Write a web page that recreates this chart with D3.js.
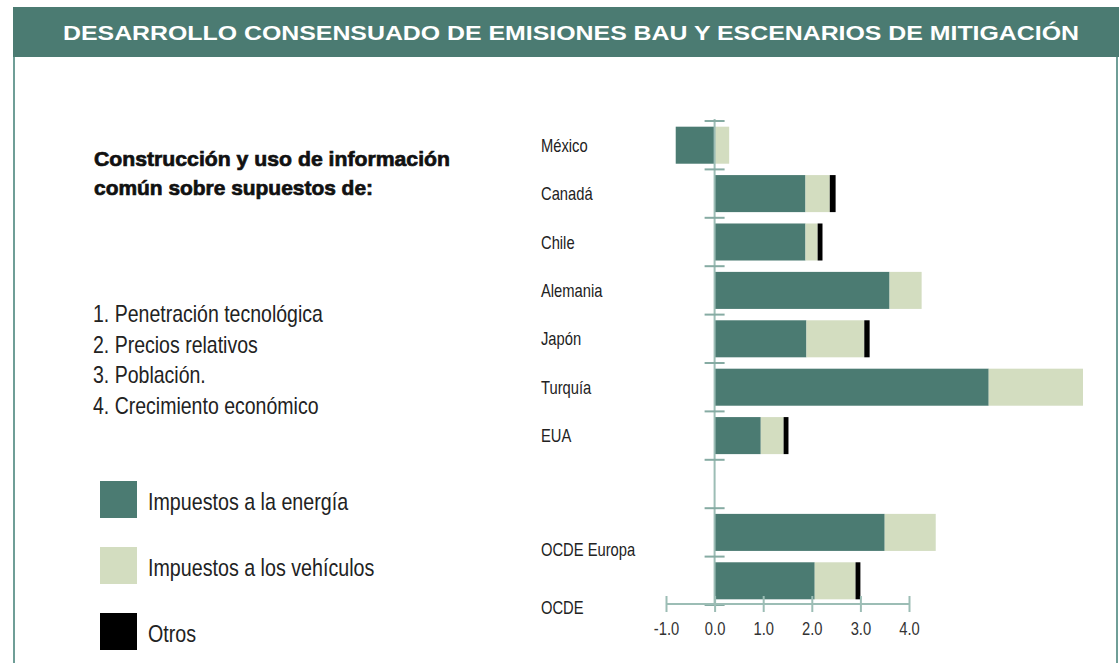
<!DOCTYPE html>
<html>
<head>
<meta charset="utf-8">
<script src="https://cdn.jsdelivr.net/npm/d3@7"></script>
<style>
  html, body { margin: 0; padding: 0; background: #ffffff; }
  svg { display: block; }
  text { font-family: "Liberation Sans", Arial, sans-serif; }
</style>
</head>
<body>
<svg id="chart" width="1119" height="663"></svg>
<script>
// ---- data ----
const title = "DESARROLLO CONSENSUADO DE EMISIONES BAU Y ESCENARIOS DE MITIGACIÓN";
const headingLines = ["Construcción y uso de información", "común sobre supuestos de:"];
const assumptions = ["1. Penetración tecnológica", "2. Precios relativos", "3. Población.", "4. Crecimiento económico"];
const categories = ["México", "Canadá", "Chile", "Alemania", "Japón", "Turquía", "EUA", "OCDE Europa", "OCDE"];
const energia   = [-0.8, 1.87, 1.87, 3.6, 1.89, 5.64, 0.95, 3.5, 2.06];
const vehiculos = [0.3, 0.5, 0.25, 0.66, 1.19, 1.94, 0.47, 1.05, 0.84];
const otros     = [0, 0.12, 0.1, 0, 0.11, 0, 0.1, 0, 0.1];
const seriesNames = ["Impuestos a la energía", "Impuestos a los vehículos", "Otros"];
const xTicks = [-1, 0, 1, 2, 3, 4];

// ---- setup ----
const svg = d3.select("#chart");
const teal = "#4b7b72", pale = "#d3ddc0", black = "#000000";
const axisCol = "#9cbdb5", frameCol = "#6f9e97";
const colors = [teal, pale, black];
const SX = 0.82; // horizontal condensation for narrow text

function narrow(sel, xf, yf) {
  sel.attr("transform", (d, i) => `translate(${typeof xf === "function" ? xf(d, i) : xf},${typeof yf === "function" ? yf(d, i) : yf}) scale(${SX},1)`);
}

// frame and header
svg.append("rect").attr("x", 0).attr("y", 0).attr("width", 1119).attr("height", 663).attr("fill", "#fff");
svg.append("line").attr("x1", 14).attr("x2", 14).attr("y1", 7).attr("y2", 663)
  .attr("stroke", frameCol).attr("stroke-width", 2);
svg.append("line").attr("x1", 1117).attr("x2", 1117).attr("y1", 7).attr("y2", 663)
  .attr("stroke", frameCol).attr("stroke-width", 2);
svg.append("rect").attr("x", 13).attr("y", 7).attr("width", 1106).attr("height", 50).attr("fill", teal);
svg.append("text").attr("x", 63).attr("y", 40)
  .attr("font-weight", "bold")
  .attr("font-size", 21).attr("fill", "#fff")
  .attr("textLength", 1016).attr("lengthAdjust", "spacingAndGlyphs")
  .text(title);

// heading
svg.append("g").selectAll("text").data(headingLines).join("text")
  .attr("x", 94).attr("y", (d, i) => 166 + i * 29)
  .attr("font-weight", "bold")
  .attr("font-size", 21).attr("fill", "#111").attr("stroke", "#111").attr("stroke-width", 0.7)
  .attr("textLength", (d, i) => i === 0 ? 356 : 279).attr("lengthAdjust", "spacingAndGlyphs")
  .text(d => d);

// assumptions list
svg.append("g").selectAll("text").data(assumptions).join("text")
  .call(narrow, 93, (d, i) => 322 + i * 30.7)
  .attr("font-size", 23.8).attr("fill", "#222")
  .text(d => d);

// legend
const legItems = svg.append("g").selectAll("g").data(seriesNames).join("g")
  .attr("transform", (d, i) => `translate(0, ${i * 66})`);
legItems.append("rect").attr("x", 100).attr("y", 481).attr("width", 37).attr("height", 37)
  .attr("fill", (d, i) => colors[i]);
legItems.append("text").call(narrow, 148, 510)
  .attr("font-size", 24).attr("fill", "#222").text(d => d);

// ---- chart ----
const slots = [...categories.slice(0, 7), "__gap__", ...categories.slice(7)];
const x = d3.scaleLinear().domain([-1, 4]).range([666, 909]);
const y = d3.scaleBand().domain(slots).range([121, 605]).paddingInner(0.235).paddingOuter(0.1175);

const rows = categories.map((c, i) => ({ cat: c, energia: energia[i], vehiculos: vehiculos[i], otros: otros[i] }));
const stack = d3.stack().keys(["energia", "vehiculos", "otros"]).offset(d3.stackOffsetDiverging);
const stacked = stack(rows);

const barsG = svg.append("g");
stacked.forEach((layer, li) => {
  barsG.append("g").attr("fill", colors[li]).selectAll("rect")
    .data(layer.filter(d => d[1] !== d[0]))
    .join("rect")
    .attr("x", d => x(Math.min(d[0], d[1])))
    .attr("width", d => Math.abs(x(d[1]) - x(d[0])))
    .attr("y", d => y(d.data.cat))
    .attr("height", y.bandwidth());
});

// vertical category axis (band boundaries)
const step = y.step();
const boundaries = d3.range(slots.length + 1).map(i => y.range()[0] + i * step);
svg.append("line").attr("x1", x(0)).attr("x2", x(0)).attr("y1", boundaries[0] - 2).attr("y2", boundaries[boundaries.length - 1])
  .attr("stroke", axisCol).attr("stroke-width", 2);
svg.append("g").selectAll("line").data(boundaries).join("line")
  .attr("x1", x(0) - 10).attr("x2", x(0) + 10)
  .attr("y1", d => d).attr("y2", d => d)
  .attr("stroke", "#86aba3").attr("stroke-width", 2);

// category labels
const labelShift = { "OCDE Europa": 17, "OCDE": 27 };
svg.append("g").selectAll("text").data(categories).join("text")
  .call(narrow, 541, d => y(d) + y.bandwidth() / 2 + (labelShift[d] || 0) + 6.5)
  .attr("font-size", 18).attr("fill", "#222")
  .text(d => d);

// x axis
const axisY = 604;
const fmt = v => d3.format(".1f")(v).replace("\u2212", "-");
const xAxis = d3.axisBottom(x).tickValues(xTicks).tickFormat(fmt).tickSize(0).tickPadding(0);
const gx = svg.append("g").attr("transform", `translate(0, ${axisY})`).call(xAxis)
  .attr("font-family", null).attr("font-size", null);
gx.select(".domain").remove();
gx.append("line").attr("x1", x(-1)).attr("x2", x(4)).attr("y1", 0).attr("y2", 0)
  .attr("stroke", axisCol).attr("stroke-width", 2);
gx.selectAll(".tick").append("line").attr("y1", -8).attr("y2", 8)
  .attr("stroke", axisCol).attr("stroke-width", 2);
gx.selectAll(".tick text")
  .attr("y", null).attr("dy", null)
  .call(narrow, 0, 31)
  .attr("text-anchor", "middle")
  .attr("font-size", 18).attr("fill", "#333");
</script>
</body>
</html>
